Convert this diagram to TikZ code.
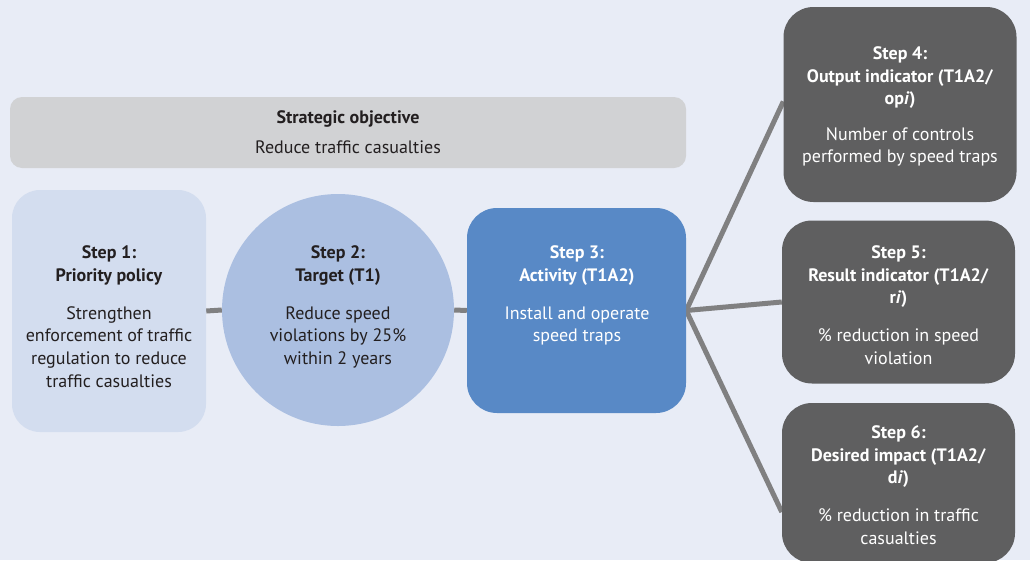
\documentclass[tikz,border=0pt]{standalone}
\usepackage{fontspec}
\setmainfont{PT Sans}
\usetikzlibrary{calc}
\definecolor{pagebg}{HTML}{E8ECF6}
\definecolor{objfill}{HTML}{D1D2D4}
\definecolor{policyfill}{HTML}{D3DDEF}
\definecolor{targetfill}{HTML}{ABBFE1}
\definecolor{activityfill}{HTML}{5889C6}
\definecolor{indfill}{HTML}{5F5F60}
\definecolor{linkgray}{HTML}{808081}
\definecolor{ink}{HTML}{231F20}
\pgfdeclarelayer{bg}
\pgfdeclarelayer{links}
\pgfsetlayers{bg,links,main}
\tikzset{
  box/.style={draw=none, rounded corners=#1, inner sep=0pt},
  box/.default=28pt,
  label/.style={anchor=north, inner sep=0pt, align=center, text=ink,
    font=\fontsize{18}{22.6}\selectfont},
  whitelabel/.style={label, text=white},
  link/.style={draw=linkgray, line width=5pt},
}
\newcommand{\gap}{\\[15.5pt]}
\begin{document}
\begin{tikzpicture}[x=1pt, y=-1pt]
  \useasboundingbox (0,0) rectangle (1030,560);
  \begin{pgfonlayer}{bg}
    \fill[pagebg] (0,0) rectangle (1030,560);
  \end{pgfonlayer}

  % strategic objective banner
  \node[box=12pt, fill=objfill, minimum width=676pt, minimum height=71pt] (obj) at (348,132.5) {};
  \node[label] (objt) at (348,110.5) {\textbf{Strategic objective}\\[7pt]Reduce traffic casualties};

  % step 1: priority policy
  \node[box=28pt, fill=policyfill, minimum width=194pt, minimum height=242pt] (s1) at (109,311) {};
  \node[label] (s1t) at (109,245.5) {\textbf{Step 1:}\\\textbf{Priority policy}\gap
    Strengthen\\enforcement of traffic\\regulation to reduce\\traffic casualties};

  % step 2: target
  \node[circle, fill=targetfill, minimum size=232pt, inner sep=0pt] (s2) at (338,310) {};
  \node[label] (s2t) at (338,245.5) {\textbf{Step 2:}\\\textbf{Target (T1)}\gap
    Reduce speed\\violations by 25\%\\within 2 years};

  % step 3: activity
  \node[box=30pt, fill=activityfill, minimum width=219pt, minimum height=205pt] (s3) at (576.5,310.5) {};
  \node[whitelabel] (s3t) at (577,245.5) {\textbf{Step 3:}\\\textbf{Activity (T1A2)}\gap
    Install and operate\\speed traps};

  % steps 4-6: indicators
  \node[box=30pt, fill=indfill, minimum width=233pt, minimum height=195pt] (s4) at (900,104.5) {};
  \node[whitelabel] (s4t) at (900,46.5) {\textbf{Step 4:}\\\textbf{Output indicator (T1A2/}\\\textbf{op\textit{i})}\\[13pt]
    Number of controls\\performed by speed traps};

  \node[box=30pt, fill=indfill, minimum width=233pt, minimum height=163pt] (s5) at (898.5,302) {};
  \node[whitelabel] (s5t) at (898.5,245.5) {\textbf{Step 5:}\\\textbf{Result indicator (T1A2/}\\\textbf{r\textit{i})}\gap
    \% reduction in speed\\violation};

  \node[box=30pt, fill=indfill, minimum width=233pt, minimum height=160pt] (s6) at (898.5,483) {};
  \node[whitelabel] (s6t) at (898.5,425.5) {\textbf{Step 6:}\\\textbf{Desired impact (T1A2/}\\\textbf{d\textit{i})}\gap
    \% reduction in traffic\\casualties};

  \coordinate (s4in) at ($(s4.west)+(0,-3)$);
  \coordinate (s6in) at ($(s6.west)+(0,29)$);

  % connectors, drawn beneath the boxes
  \begin{pgfonlayer}{links}
    \draw[link] (s1.east) -- (s2.west);
    \draw[link] (s2.east) -- (s3.west);
    \draw[link] (s3.east) -- (s4in);
    \draw[link] (s3.east) -- (s5.west);
    \draw[link] (s3.east) -- (s6in);
  \end{pgfonlayer}
\end{tikzpicture}
\end{document}
